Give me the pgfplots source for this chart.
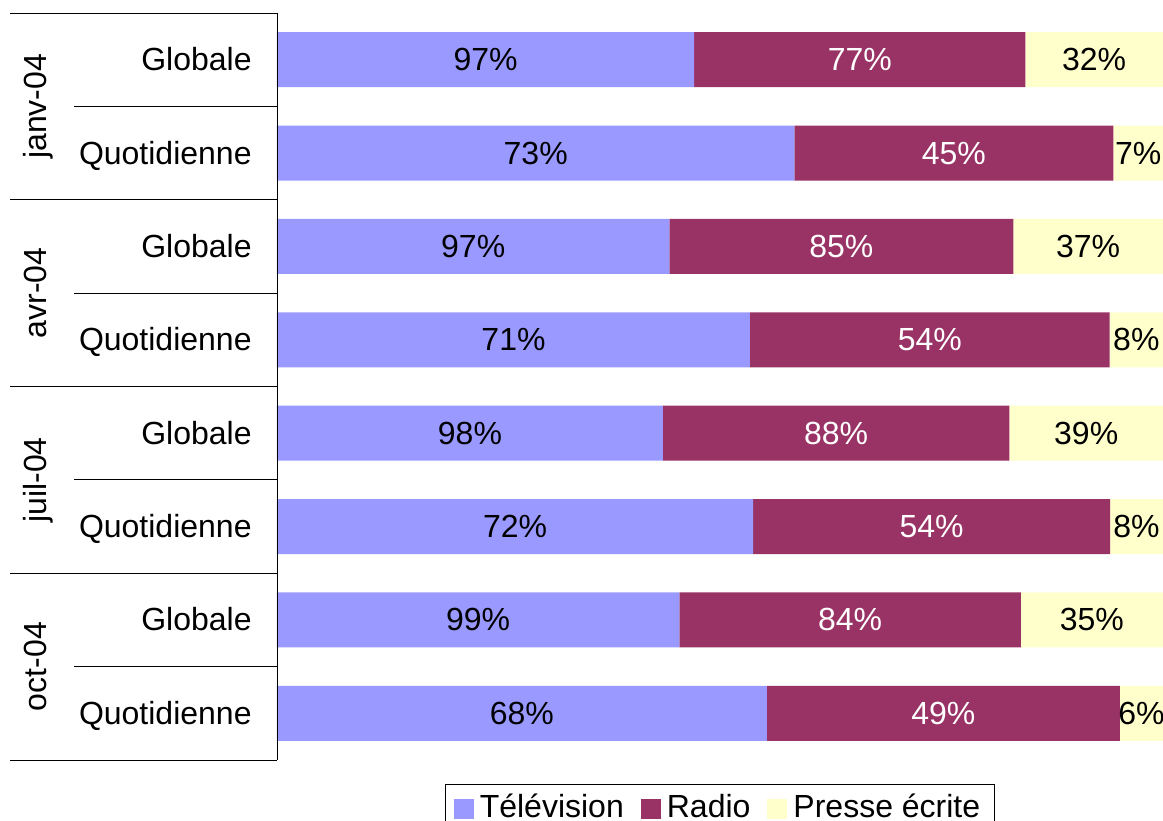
\documentclass[border=0pt]{standalone}
\usepackage{fontspec}
\setmainfont{Liberation Sans}
\usepackage{pgfplots}
\usepackage{pgfplotstable}
\pgfplotsset{compat=1.18}
\definecolor{tv}{HTML}{9999FF}
\definecolor{radio}{HTML}{993366}
\definecolor{presse}{HTML}{FFFFCC}

% audience globale / quotidienne, en %
\pgfplotstableread{
idx tv radio presse
0 97 77 32
1 73 45 7
2 97 85 37
3 71 54 8
4 98 88 39
5 72 54 8
6 99 84 35
7 68 49 6
}\data

% part de chaque média dans la barre (100 %)
\newcommand\norm[1]{\thisrow{#1}*100/(\thisrow{tv}+\thisrow{radio}+\thisrow{presse})}

\begin{document}
\fontsize{16pt}{19pt}\selectfont
\begin{tikzpicture}[x=0.5pt,y=0.5pt]
\useasboundingbox (0,0) rectangle (1163,820);
\begin{axis}[
    at={(138.5pt,30pt)}, anchor=south west,
    scale only axis, width=443pt, height=373.5pt,
    xbar stacked, bar width=27.5pt,
    xmin=0, xmax=100, ymin=-0.5, ymax=7.5, y dir=reverse,
    axis line style={draw=none},
    xtick=\empty,
    ytick={0,...,7},
    yticklabels={Globale,Quotidienne,Globale,Quotidienne,Globale,Quotidienne,Globale,Quotidienne},
    major tick length=0pt,
    yticklabel style={inner sep=0pt, anchor=base east, xshift=-12.5pt, yshift=-5.5pt},
    clip=false,
    point meta=explicit,
    /pgf/number format/assume math mode=true,
    nodes near coords={\pgfmathprintnumber{\pgfplotspointmeta}\%},
    every node near coord/.append style={anchor=center},
    legend style={at={(0.5,0)}, anchor=north, yshift=-12pt, draw=black,
        legend columns=-1, inner xsep=4pt, inner ysep=3pt,
        nodes={inner xsep=3pt, inner ysep=2pt},
        /tikz/every even column/.append style={column sep=5.5pt}},
    legend image code/.code={\fill[#1] (0pt,-5pt) rectangle (10pt,5pt);},
]
\addplot[fill=tv, draw=none, every node near coord/.append style={text=black}]
    table[y=idx, x expr=\norm{tv}, meta=tv] {\data};
\addplot[fill=radio, draw=none, every node near coord/.append style={text=white}]
    table[y=idx, x expr=\norm{radio}, meta=radio] {\data};
\addplot[fill=presse, draw=none, every node near coord/.append style={text=black}]
    table[y=idx, x expr=\norm{presse}, meta=presse] {\data};
\legend{Télévision, Radio, Presse écrite}
\end{axis}
% cadre des catégories
\draw (277,807) -- (277,60);
\foreach \yy in {807,620.25,433.5,246.75,60} \draw (10,\yy) -- (277,\yy);
\foreach \yy in {713.6,526.9,340.1,153.4} \draw (74,\yy) -- (277,\yy);
\node[rotate=90, anchor=base] at (47,713.6) {janv-04};
\node[rotate=90, anchor=base] at (47,526.9) {avr-04};
\node[rotate=90, anchor=base] at (47,340.1) {juil-04};
\node[rotate=90, anchor=base] at (47,153.4) {oct-04};
\end{tikzpicture}
\end{document}
